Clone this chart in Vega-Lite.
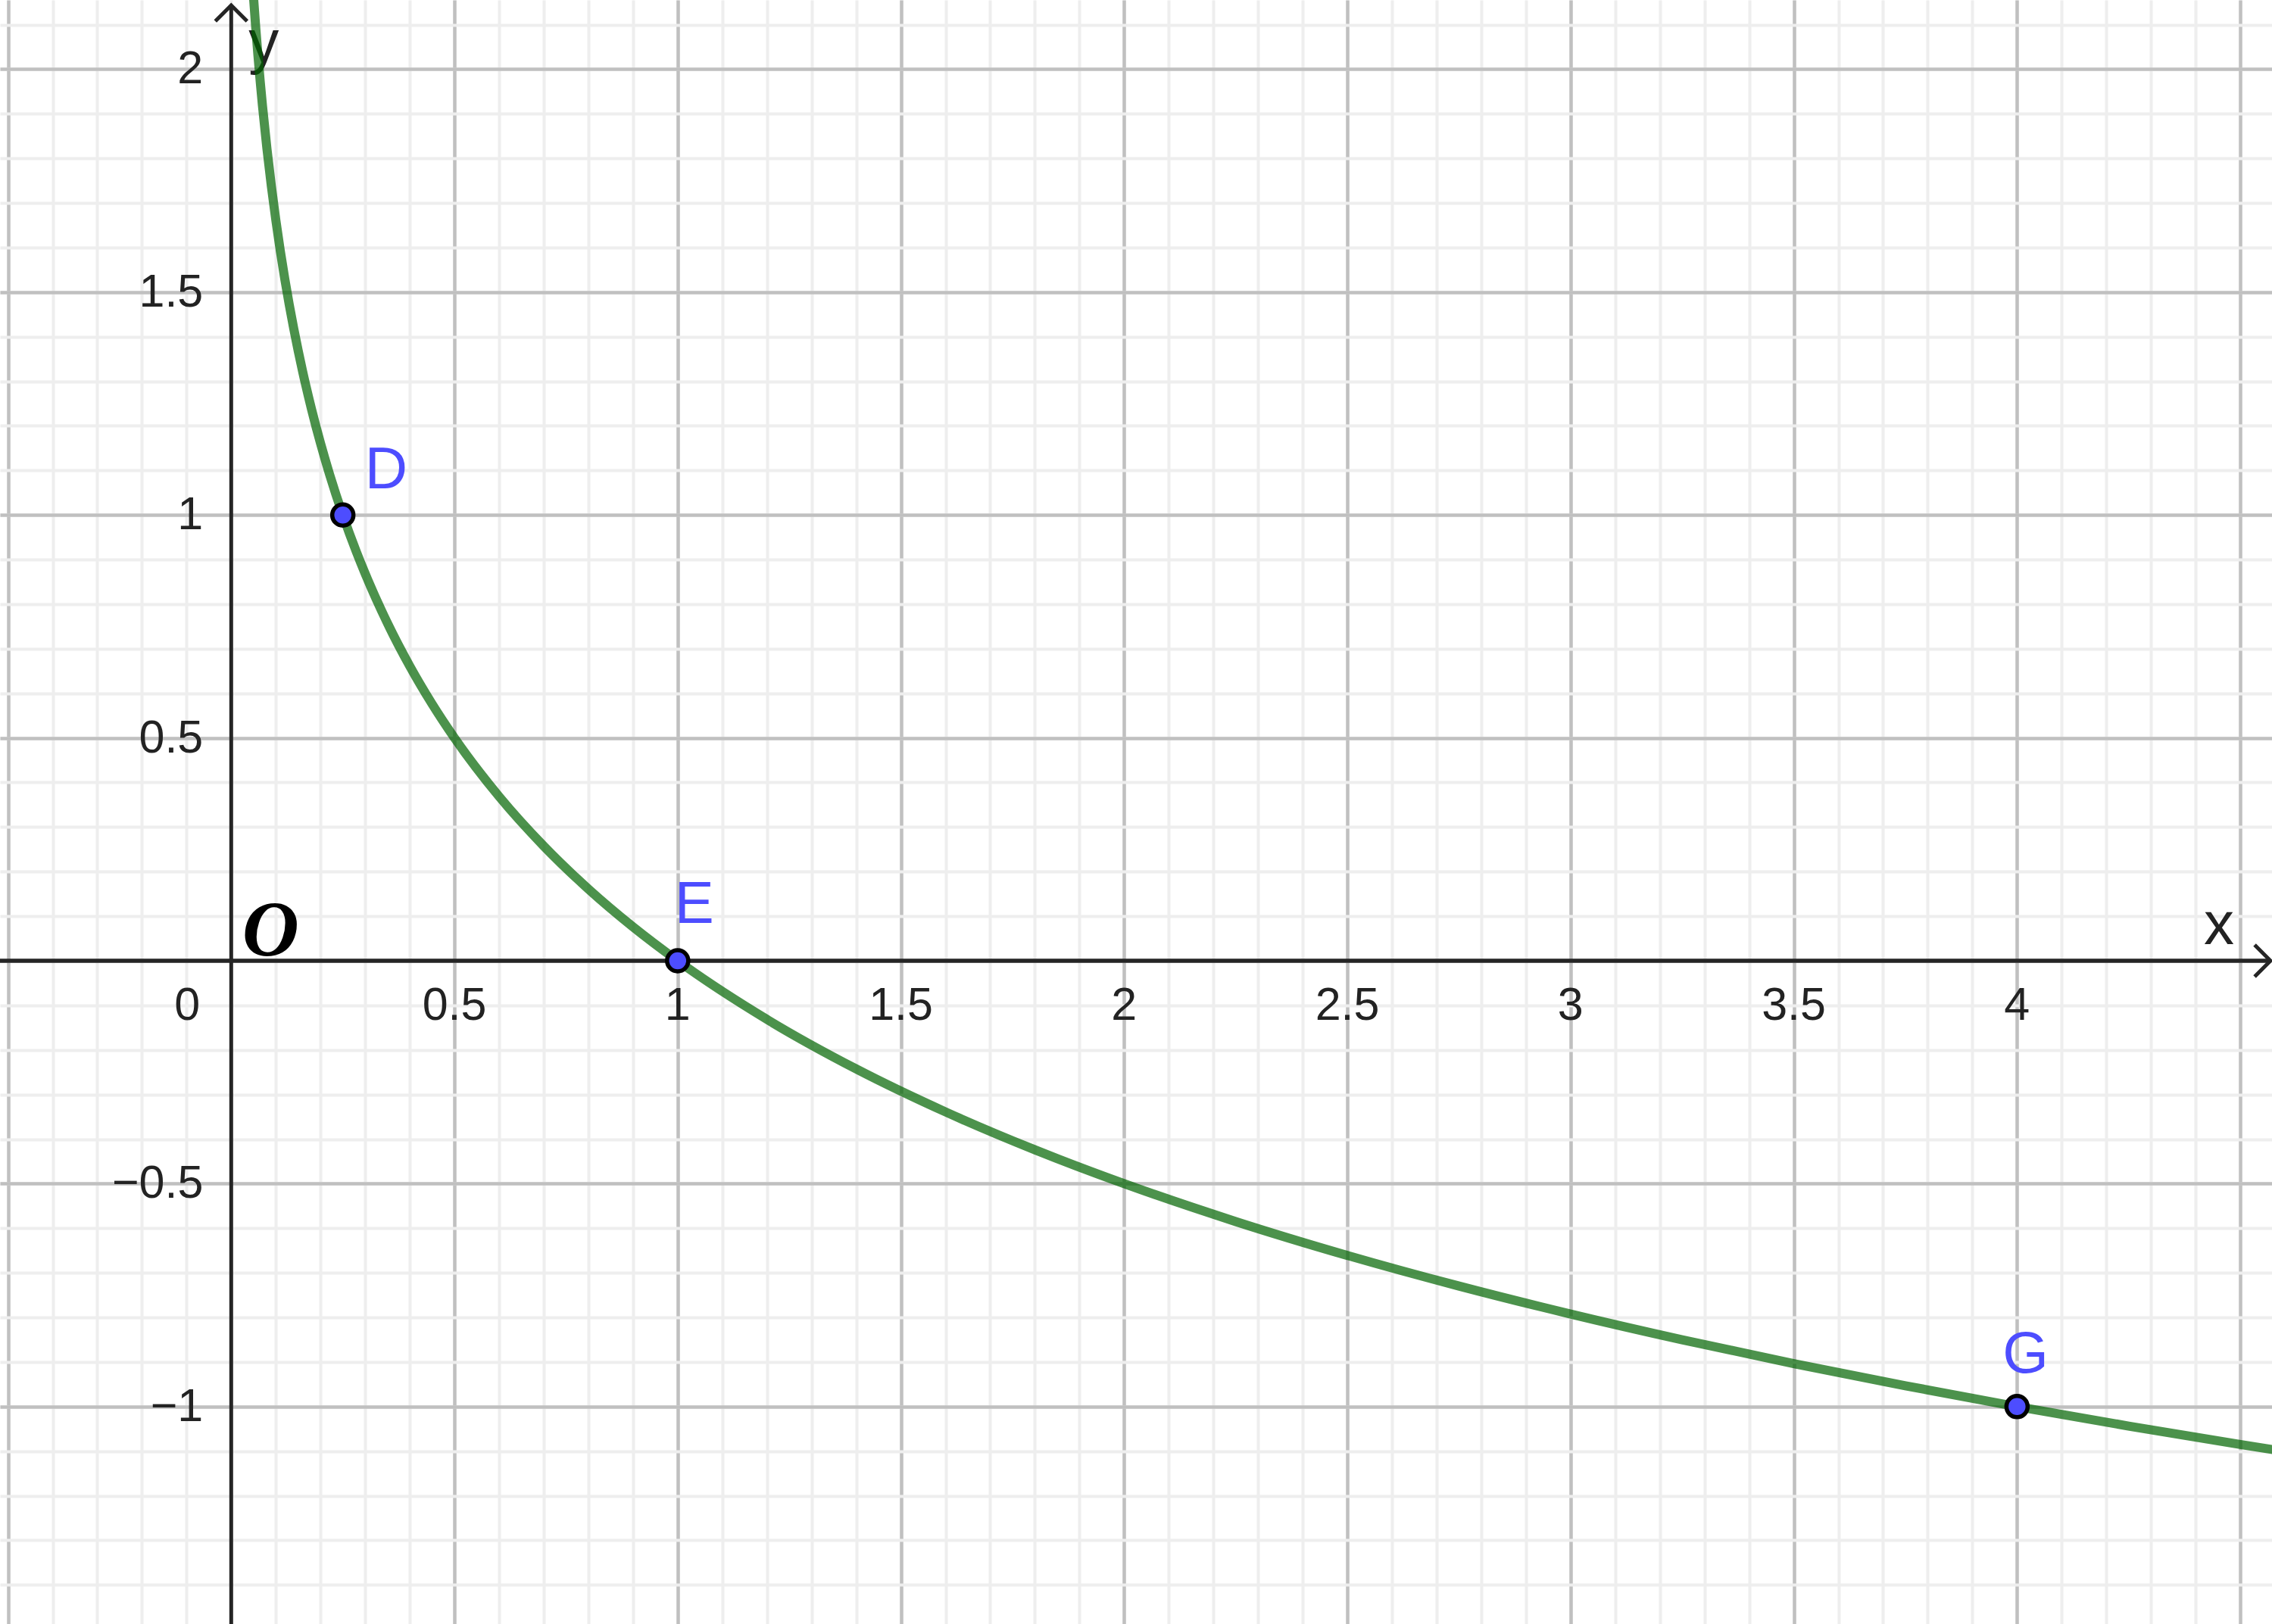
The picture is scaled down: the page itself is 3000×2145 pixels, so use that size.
{
  "$schema": "https://vega.github.io/schema/vega-lite/v6.json",
  "width": 3000,
  "height": 2145,
  "autosize": {"type": "none"},
  "padding": 0,
  "background": "white",
  "view": {"stroke": null},
  "datasets": {
    "curve": [
      {"x": 0.05, "y": 2.16096}, {"x": 0.055, "y": 2.09221}, {"x": 0.06, "y": 2.02945}, {"x": 0.065, "y": 1.97171},
      {"x": 0.07, "y": 1.91825}, {"x": 0.08, "y": 1.82193}, {"x": 0.09, "y": 1.73697}, {"x": 0.1, "y": 1.66096},
      {"x": 0.11, "y": 1.59221}, {"x": 0.12, "y": 1.52945}, {"x": 0.13, "y": 1.47171}, {"x": 0.14, "y": 1.41825},
      {"x": 0.15, "y": 1.36848}, {"x": 0.16, "y": 1.32193}, {"x": 0.18, "y": 1.23697}, {"x": 0.2, "y": 1.16096},
      {"x": 0.22, "y": 1.09221}, {"x": 0.25, "y": 1.0}, {"x": 0.28, "y": 0.91825}, {"x": 0.3, "y": 0.86848},
      {"x": 0.35, "y": 0.75729}, {"x": 0.4, "y": 0.66096}, {"x": 0.45, "y": 0.576}, {"x": 0.5, "y": 0.5},
      {"x": 0.6, "y": 0.36848}, {"x": 0.7, "y": 0.25729}, {"x": 0.8, "y": 0.16096}, {"x": 0.9, "y": 0.076},
      {"x": 1.0, "y": 0.0}, {"x": 1.2, "y": -0.13152}, {"x": 1.4, "y": -0.24271}, {"x": 1.6, "y": -0.33904},
      {"x": 1.8, "y": -0.424}, {"x": 2.0, "y": -0.5}, {"x": 2.25, "y": -0.58496}, {"x": 2.5, "y": -0.66096},
      {"x": 2.75, "y": -0.72971}, {"x": 3.0, "y": -0.79248}, {"x": 3.25, "y": -0.85022}, {"x": 3.5, "y": -0.90368},
      {"x": 3.75, "y": -0.95345}, {"x": 4.0, "y": -1.0}, {"x": 4.25, "y": -1.04373}, {"x": 4.5, "y": -1.08496},
      {"x": 4.6, "y": -1.10082}
    ],
    "pts": [
      {"name": "D", "x": 0.25, "y": 1},
      {"name": "E", "x": 1, "y": 0},
      {"name": "G", "x": 4, "y": -1}
    ],
    "xlabels": [
      {"v": 0.5, "label": "0.5"}, {"v": 1, "label": "1"}, {"v": 1.5, "label": "1.5"}, {"v": 2, "label": "2"},
      {"v": 2.5, "label": "2.5"}, {"v": 3, "label": "3"}, {"v": 3.5, "label": "3.5"}, {"v": 4, "label": "4"}
    ],
    "ylabels": [
      {"v": 2, "label": "2"}, {"v": 1.5, "label": "1.5"}, {"v": 1, "label": "1"}, {"v": 0.5, "label": "0.5"},
      {"v": -0.5, "label": "−0.5"}, {"v": -1, "label": "−1"}
    ],
    "xaxisline": [{"x1": -0.52, "x2": 4.5678, "y": 0}],
    "yaxisline": [{"x": 0, "y1": -1.49, "y2": 2.1433}],
    "arrows": [
      {"dir": "x", "x": 4.5678, "y": 0},
      {"dir": "y", "x": 0, "y": 2.1433}
    ]
  },
  "layer": [
    {
      "data": {"name": "xaxisline"},
      "mark": {"type": "rule", "stroke": "#252525", "strokeWidth": 5},
      "encoding": {
        "x": {"field": "x1", "type": "quantitative",
          "scale": {"domain": [-0.5179, 4.5711], "nice": false, "zero": false},
          "axis": {"orient": "top", "values": [-0.5,-0.4,-0.3,-0.2,-0.1,0,0.1,0.2,0.3,0.4,0.5,0.6,0.7,0.8,0.9,1,1.1,1.2,1.3,1.4,1.5,1.6,1.7,1.8,1.9,2,2.1,2.2,2.3,2.4,2.5,2.6,2.7,2.8,2.9,3,3.1,3.2,3.3,3.4,3.5,3.6,3.7,3.8,3.9,4,4.1,4.2,4.3,4.4,4.5],
            "grid": true, "gridColor": "#eeeeee", "gridWidth": 4, "labels": false, "ticks": false, "domain": false, "title": null}},
        "x2": {"field": "x2"},
        "y": {"field": "y", "type": "quantitative",
          "scale": {"domain": [-1.4878, 2.1553], "nice": false, "zero": false},
          "axis": {"orient": "right", "values": [-1.4,-1.3,-1.2,-1.1,-1,-0.9,-0.8,-0.7,-0.6,-0.5,-0.4,-0.3,-0.2,-0.1,0,0.1,0.2,0.3,0.4,0.5,0.6,0.7,0.8,0.9,1,1.1,1.2,1.3,1.4,1.5,1.6,1.7,1.8,1.9,2,2.1],
            "grid": true, "gridColor": "#eeeeee", "gridWidth": 4, "labels": false, "ticks": false, "domain": false, "title": null}}
      }
    },
    {
      "data": {"name": "yaxisline"},
      "mark": {"type": "rule", "stroke": "#252525", "strokeWidth": 5},
      "encoding": {
        "x": {"field": "x", "type": "quantitative",
          "scale": {"domain": [-0.5179, 4.5711], "nice": false, "zero": false},
          "axis": {"orient": "bottom", "values": [-0.5,0.5,1,1.5,2,2.5,3,3.5,4,4.5],
            "grid": true, "gridColor": "#c0c0c0", "gridWidth": 4.5, "labels": false, "ticks": false, "domain": false, "title": null}},
        "y": {"field": "y1", "type": "quantitative",
          "scale": {"domain": [-1.4878, 2.1553], "nice": false, "zero": false},
          "axis": {"orient": "left", "values": [-1,-0.5,0.5,1,1.5,2],
            "grid": true, "gridColor": "#c0c0c0", "gridWidth": 4.5, "labels": false, "ticks": false, "domain": false, "title": null}},
        "y2": {"field": "y2"}
      }
    },
    {
      "data": {"name": "xaxisline"},
      "mark": {"type": "rule", "stroke": "#252525", "strokeWidth": 5},
      "encoding": {
        "x": {"field": "x1", "type": "quantitative", "scale": {"domain": [-0.5179, 4.5711], "nice": false, "zero": false}, "axis": null},
        "x2": {"field": "x2"},
        "y": {"field": "y", "type": "quantitative", "scale": {"domain": [-1.4878, 2.1553], "nice": false, "zero": false}, "axis": null}
      }
    },
    {
      "data": {"name": "arrows"},
      "transform": [{"filter": "datum.dir === 'x'"}],
      "mark": {"type": "point", "shape": "M-1,-1L0,0L-1,1", "size": 1764, "filled": false, "stroke": "#252525", "strokeWidth": 5, "opacity": 1},
      "encoding": {
        "x": {"field": "x", "type": "quantitative", "scale": {"domain": [-0.5179, 4.5711], "nice": false, "zero": false}, "axis": null},
        "y": {"field": "y", "type": "quantitative", "scale": {"domain": [-1.4878, 2.1553], "nice": false, "zero": false}, "axis": null}
      }
    },
    {
      "data": {"name": "arrows"},
      "transform": [{"filter": "datum.dir === 'y'"}],
      "mark": {"type": "point", "shape": "M-1,1L0,0L1,1", "size": 1764, "filled": false, "stroke": "#252525", "strokeWidth": 5, "opacity": 1},
      "encoding": {
        "x": {"field": "x", "type": "quantitative", "scale": {"domain": [-0.5179, 4.5711], "nice": false, "zero": false}, "axis": null},
        "y": {"field": "y", "type": "quantitative", "scale": {"domain": [-1.4878, 2.1553], "nice": false, "zero": false}, "axis": null}
      }
    },
    {
      "data": {"name": "xlabels"},
      "mark": {"type": "text", "font": "Liberation Sans", "fontSize": 61, "fill": "#222222", "align": "center", "baseline": "alphabetic", "dy": 78},
      "encoding": {
        "x": {"field": "v", "type": "quantitative", "scale": {"domain": [-0.5179, 4.5711], "nice": false, "zero": false}, "axis": null},
        "y": {"datum": 0, "type": "quantitative", "scale": {"domain": [-1.4878, 2.1553], "nice": false, "zero": false}, "axis": null},
        "text": {"field": "label"}
      }
    },
    {
      "data": {"name": "ylabels"},
      "mark": {"type": "text", "font": "Liberation Sans", "fontSize": 61, "fill": "#222222", "align": "right", "baseline": "middle", "dx": -37, "dy": 1},
      "encoding": {
        "x": {"datum": 0, "type": "quantitative", "scale": {"domain": [-0.5179, 4.5711], "nice": false, "zero": false}, "axis": null},
        "y": {"field": "v", "type": "quantitative", "scale": {"domain": [-1.4878, 2.1553], "nice": false, "zero": false}, "axis": null},
        "text": {"field": "label"}
      }
    },
    {
      "data": {"values": [{"t": "0"}]},
      "mark": {"type": "text", "font": "Liberation Sans", "fontSize": 61, "fill": "#222222", "align": "right", "baseline": "alphabetic", "dx": -41, "dy": 78},
      "encoding": {
        "x": {"datum": 0, "type": "quantitative", "scale": {"domain": [-0.5179, 4.5711], "nice": false, "zero": false}, "axis": null},
        "y": {"datum": 0, "type": "quantitative", "scale": {"domain": [-1.4878, 2.1553], "nice": false, "zero": false}, "axis": null},
        "text": {"field": "t"}
      }
    },
    {
      "data": {"values": [{"t": "O"}]},
      "mark": {"type": "text", "font": "Liberation Serif", "fontStyle": "italic", "fontWeight": "bold", "fontSize": 104, "fill": "#000000", "align": "center", "baseline": "alphabetic", "dx": 52, "dy": -7},
      "encoding": {
        "x": {"datum": 0, "type": "quantitative", "scale": {"domain": [-0.5179, 4.5711], "nice": false, "zero": false}, "axis": null},
        "y": {"datum": 0, "type": "quantitative", "scale": {"domain": [-1.4878, 2.1553], "nice": false, "zero": false}, "axis": null},
        "text": {"field": "t"}
      }
    },
    {
      "data": {"values": [{"t": "x"}]},
      "mark": {"type": "text", "font": "Liberation Sans", "fontSize": 80, "fill": "#222222", "align": "center", "baseline": "alphabetic", "dx": -28, "dy": -22},
      "encoding": {
        "x": {"datum": 4.5, "type": "quantitative", "scale": {"domain": [-0.5179, 4.5711], "nice": false, "zero": false}, "axis": null},
        "y": {"datum": 0, "type": "quantitative", "scale": {"domain": [-1.4878, 2.1553], "nice": false, "zero": false}, "axis": null},
        "text": {"field": "t"}
      }
    },
    {
      "data": {"values": [{"t": "y"}]},
      "mark": {"type": "text", "font": "Liberation Sans", "fontSize": 80, "fill": "#222222", "align": "center", "baseline": "alphabetic", "dx": 43, "dy": -9},
      "encoding": {
        "x": {"datum": 0, "type": "quantitative", "scale": {"domain": [-0.5179, 4.5711], "nice": false, "zero": false}, "axis": null},
        "y": {"datum": 2, "type": "quantitative", "scale": {"domain": [-1.4878, 2.1553], "nice": false, "zero": false}, "axis": null},
        "text": {"field": "t"}
      }
    },
    {
      "data": {"name": "curve"},
      "mark": {"type": "line", "stroke": "#006400", "strokeOpacity": 0.7, "strokeWidth": 12, "clip": true, "interpolate": "monotone"},
      "encoding": {
        "x": {"field": "x", "type": "quantitative", "scale": {"domain": [-0.5179, 4.5711], "nice": false, "zero": false}, "axis": null},
        "y": {"field": "y", "type": "quantitative", "scale": {"domain": [-1.4878, 2.1553], "nice": false, "zero": false}, "axis": null},
        "order": {"field": "x", "type": "quantitative"}
      }
    },
    {
      "data": {"name": "pts"},
      "mark": {"type": "point", "shape": "circle", "size": 784, "filled": true, "fill": "#4d4dff", "stroke": "#000000", "strokeWidth": 5.5, "opacity": 1},
      "encoding": {
        "x": {"field": "x", "type": "quantitative", "scale": {"domain": [-0.5179, 4.5711], "nice": false, "zero": false}, "axis": null},
        "y": {"field": "y", "type": "quantitative", "scale": {"domain": [-1.4878, 2.1553], "nice": false, "zero": false}, "axis": null}
      }
    },
    {
      "data": {"name": "pts"},
      "transform": [{"filter": "datum.name === 'D'"}],
      "mark": {"type": "text", "font": "Liberation Sans", "fontSize": 78, "fill": "#4d4dff", "align": "left", "baseline": "alphabetic", "dx": 29, "dy": -35},
      "encoding": {
        "x": {"field": "x", "type": "quantitative", "scale": {"domain": [-0.5179, 4.5711], "nice": false, "zero": false}, "axis": null},
        "y": {"field": "y", "type": "quantitative", "scale": {"domain": [-1.4878, 2.1553], "nice": false, "zero": false}, "axis": null},
        "text": {"field": "name"}
      }
    },
    {
      "data": {"name": "pts"},
      "transform": [{"filter": "datum.name === 'E'"}],
      "mark": {"type": "text", "font": "Liberation Sans", "fontSize": 78, "fill": "#4d4dff", "align": "left", "baseline": "alphabetic", "dx": -4, "dy": -50},
      "encoding": {
        "x": {"field": "x", "type": "quantitative", "scale": {"domain": [-0.5179, 4.5711], "nice": false, "zero": false}, "axis": null},
        "y": {"field": "y", "type": "quantitative", "scale": {"domain": [-1.4878, 2.1553], "nice": false, "zero": false}, "axis": null},
        "text": {"field": "name"}
      }
    },
    {
      "data": {"name": "pts"},
      "transform": [{"filter": "datum.name === 'G'"}],
      "mark": {"type": "text", "font": "Liberation Sans", "fontSize": 78, "fill": "#4d4dff", "align": "left", "baseline": "alphabetic", "dx": -19, "dy": -45},
      "encoding": {
        "x": {"field": "x", "type": "quantitative", "scale": {"domain": [-0.5179, 4.5711], "nice": false, "zero": false}, "axis": null},
        "y": {"field": "y", "type": "quantitative", "scale": {"domain": [-1.4878, 2.1553], "nice": false, "zero": false}, "axis": null},
        "text": {"field": "name"}
      }
    }
  ]
}
